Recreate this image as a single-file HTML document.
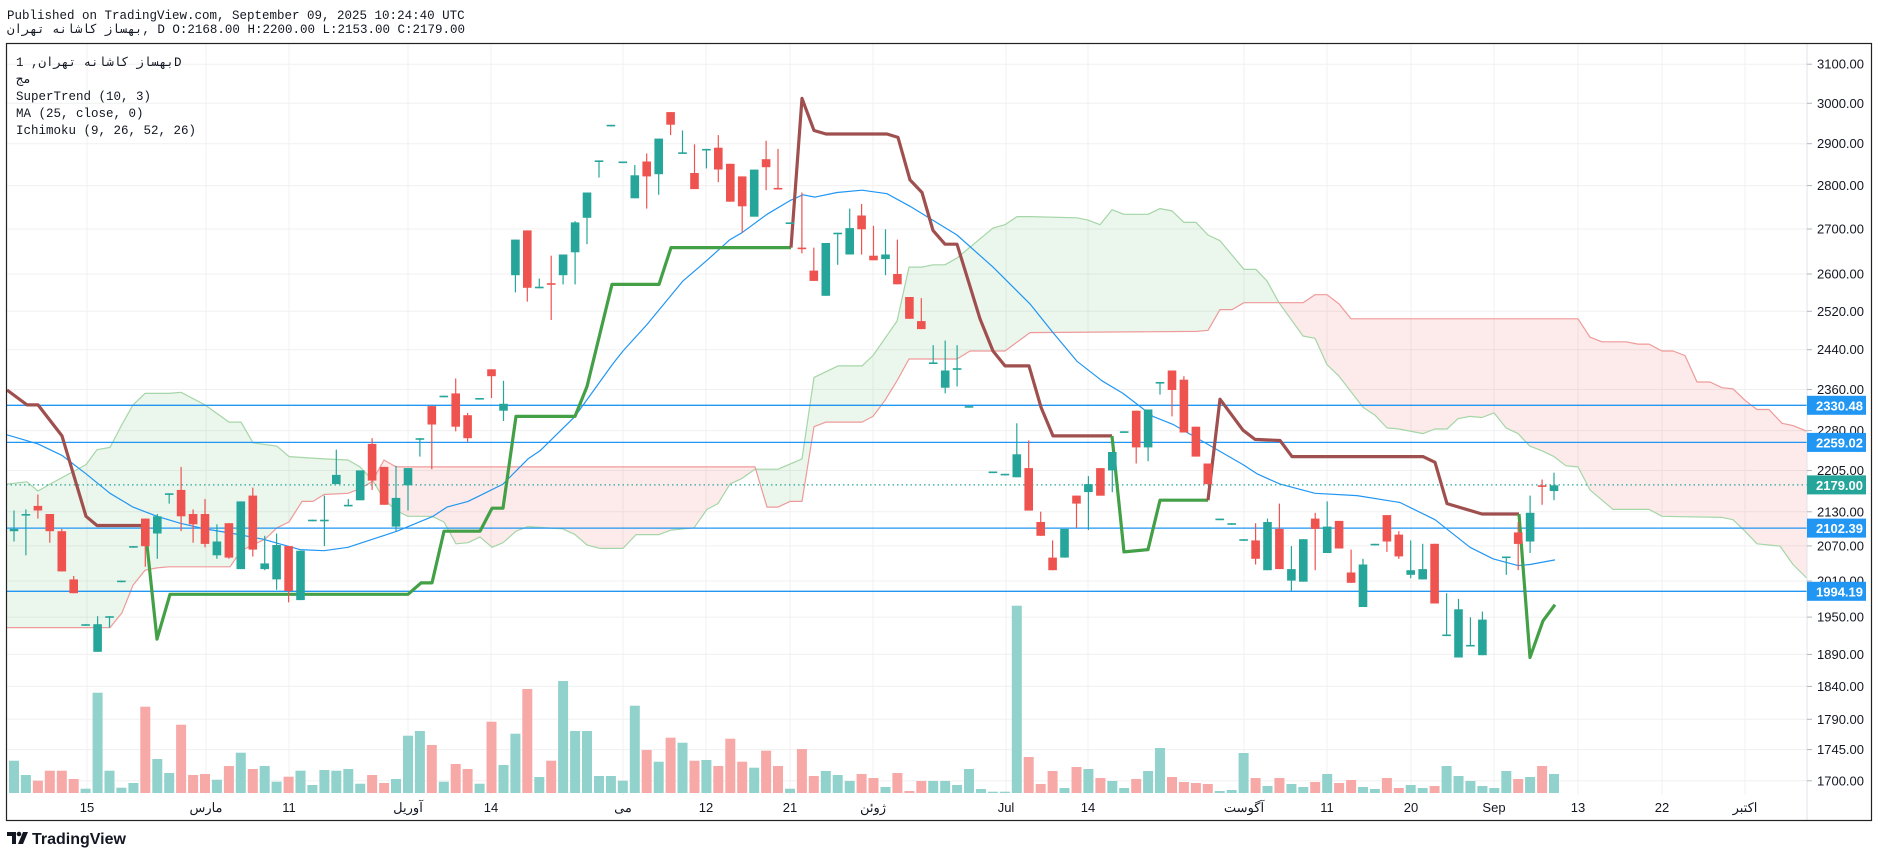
<!DOCTYPE html>
<html><head><meta charset="utf-8">
<style>
html,body{margin:0;padding:0;background:#fff;width:1878px;height:858px;overflow:hidden}
svg{display:block}
</style></head><body>
<svg id="s" width="1878" height="858" xmlns="http://www.w3.org/2000/svg" font-family="Liberation Sans, sans-serif"></svg>
<script>
const T=y=>80+1.1481*(y-80);
const k=1192.8, P=p=>103.3+k*Math.log(3000/p);
let o='';
o+='<rect x="0" y="0" width="1878" height="858" fill="#fff"/>';
// header
o+='<text x="7" y="19" font-family="Liberation Mono, DejaVu Sans Mono, monospace" font-size="12.5" fill="#131722">Published on TradingView.com, September 09, 2025 10:24:40 UTC</text>';
o+='<text x="7" y="33" font-family="Liberation Mono, Noto Sans CJK SC, monospace" font-size="12.5" fill="#131722"><tspan>بهساز کاشانه تهران</tspan><tspan>, D O:2168.00 H:2200.00 L:2153.00 C:2179.00</tspan></text>';
// grid
const ticks=[3100,3000,2900,2800,2700,2600,2520,2440,2360,2280,2205,2130,2070,2010,1950,1890,1840,1790,1745,1700];
ticks.forEach(p=>{o+=`<line x1="6" x2="1807" y1="${P(p).toFixed(1)}" y2="${P(p).toFixed(1)}" stroke="#f0f0f0"/>`});
const vx=[87,206,289,408,491,623,706,790,873,1006,1088,1244,1327,1411,1494,1578,1662,1745];
vx.forEach(x=>{o+=`<line x1="${x}" x2="${x}" y1="43" y2="795" stroke="#f0f0f0"/>`});
o+='<defs><clipPath id="c"><rect x="6" y="43" width="1801" height="752"/></clipPath></defs><g clip-path="url(#c)">';
// volume
const v1=[[28,'g',242],[52,'g',285],[76,'r',302],[99,'r',272],[122,'r',272],[146,'r',297],[169,'g',326],[191,'g',38],[214,'g',272],[238,'g',323],[261,'g',309],[285,'r',80],[308,'g',237],[331,'g',279],[355,'r',134],[378,'r',285],[403,'r',282],[427,'g',299],[450,'r',258],[473,'g',218],[497,'r',267],[520,'g',258],[544,'g',305],[567,'r',290],[590,'g',272],[613,'g',315],[636,'g',270],[660,'g',272],[683,'g',267],[706,'g',311],[730,'r',285],[754,'r',309],[777,'g',297],[800,'g',167],[824,'g',153],[848,'r',195],[871,'g',305],[895,'r',252],[918,'r',267],[942,'g',311],[964,'r',125],[987,'g',255],[1010,'g',161],[1034,'r',27],[1057,'g',291],[1081,'r',242],[1104,'g',3],[1128,'g',153],[1152,'g',153],[1175,'g',288],[1198,'g',288],[1222,'g',302],[1246,'g',77],[1269,'r',210],[1292,'g',245],[1316,'r',173],[1339,'g',188],[1362,'r',242],[1386,'g',240],[1409,'r',258],[1432,'r',176],[1456,'r',245],[1479,'g',263],[1502,'r',212],[1526,'r',258],[1549,'g',326],[1568,'r',207]];
const v2=`g 596|r 477|r 558|g 543|g 555|g 573|r 552|r 564|g 591|r 549|r 603|r 573|g 573|g 573|g 585|g 537|g 597|g 605|g 605|g 47|r 501|r 582|r 543|g 594|r 531|g 537|r 564|g 573|g 594|r 567|g 543|g 474|r 561|r 576|r 579|r 582|g 603|g 600|g 489|r 564|g 588|r 564|g 582|g 591|r 576|g 552|r 579|r 570|g 591|g 597|r 564|r 594|g 585|g 594|r 588|g 528|g 558|g 573|g 588|g 594|g 543|r 567|g 561|r 528|g 552`.split('|');
const X=i=>14+11.938*i;
const vb=(i,c,top)=>{o+=`<rect x="${(X(i)-5).toFixed(1)}" y="${top.toFixed(1)}" width="10" height="${(793-top).toFixed(1)}" fill="${c=='g'?'#92d2cc':'#f7a9a7'}"/>`};
v1.forEach((b,i)=>{if(i<65)vb(i,b[1],680+b[2]/3)});
v2.forEach((s,j)=>{const [c,z]=s.split(' ');vb(65+j,c,590+(+z)/3)});
// cloud
const A=[7,432,27,430,38,438,50,432,86,415,97,402,110,400,122,380,133,363,145,353,169,353,181,352,205,363,229,378,241,378,253,396,277,399,289,408,324,410,348,411,360,417,372,428,384,445,396,455,408,460,432,460,444,465,456,484,468,483,480,478,492,487,503,483,516,473,528,469,563,471,575,476,587,485,600,488,623,488,636,476,659,476,671,472,694,470,707,454,718,449,730,432,742,427,755,419,778,419,802,410,814,339,838,329,862,329,873,320,897,290,909,243,922,243,933,241,945,241,957,235,993,209,1005,206,1017,199,1030,199,1077,200,1088,202,1100,206,1112,193,1124,197,1148,197,1160,192,1172,194,1184,204,1196,204,1208,215,1220,220,1244,245,1256,245,1267,255,1279,274,1303,303,1315,305,1327,328,1339,338,1363,365,1375,372,1387,383,1399,384,1423,388,1435,384,1447,384,1458,375,1470,373,1482,374,1494,370,1506,383,1518,388,1530,399,1542,403,1554,408,1566,416,1578,417,1590,437,1613,454,1649,454,1662,460,1722,461,1733,463,1745,473,1757,484,1780,486,1793,502,1807,514];
const B=[7,557,110,557,122,544,133,520,145,507,157,505,169,504,230,504,241,490,265,480,277,470,289,465,302,447,313,447,324,441,348,440,360,436,372,430,384,411,396,417,755,417,767,452,778,452,790,447,802,447,814,382,826,378,862,378,873,373,885,359,897,342,909,323,957,323,970,316,1005,316,1030,300,1197,299,1208,298,1220,280,1232,280,1244,274,1303,274,1315,267,1327,267,1339,275,1351,288,1578,288,1590,304,1602,308,1626,308,1638,310,1649,310,1662,316,1673,316,1685,320,1697,343,1710,343,1722,348,1733,349,1745,359,1757,367,1769,367,1782,379,1793,381,1807,386];
const interp=(arr,x)=>{for(let i=0;i<arr.length-2;i+=2){if(x<=arr[i+2]){const t=(x-arr[i])/(arr[i+2]-arr[i]);return arr[i+1]+t*(arr[i+3]-arr[i+1]);}}return arr[arr.length-1];};
let gp='',rp='';
for(let x=7;x<1807;x+=1){const a0=T(interp(A,x)),b0=T(interp(B,x)),a1=T(interp(A,x+1)),b1=T(interp(B,x+1));
 const q=`M${x} ${a0.toFixed(1)}L${x+1} ${a1.toFixed(1)}L${x+1} ${b1.toFixed(1)}L${x} ${b0.toFixed(1)}Z`;
 if((a0+a1)<(b0+b1))gp+=q;else rp+=q;}
o+=`<path d="${gp}" fill="rgba(76,175,80,0.11)"/><path d="${rp}" fill="rgba(239,83,80,0.12)"/>`;
const pl=(arr,col,w)=>{let d='';for(let i=0;i<arr.length;i+=2)d+=(i?'L':'M')+arr[i]+' '+T(arr[i+1]).toFixed(1);o+=`<path d="${d}" fill="none" stroke="${col}" stroke-width="${w}" stroke-linejoin="round"/>`;};
pl(A,'#a5d6a7',1.2);pl(B,'#ef9a9a',1.2);
// MA
pl([7,389,38,397,62,407,86,423,110,440,133,452,157,460,180,466,205,471,233,475,263,480,300,489,324,490,348,487,397,473,433,460,447,452,468,447,480,442,503,432,528,410,540,403,575,373,613,327,623,316,647,293,683,255,707,237,730,219,742,213,767,197,790,185,803,180,815,182,837,178,862,176,887,179,910,190,957,215,993,243,1030,275,1053,300,1077,325,1102,342,1123,353,1153,373,1173,380,1207,397,1243,415,1257,423,1280,432,1315,440,1357,442,1400,448,1435,463,1470,487,1493,497,1518,503,1530,502,1555,498],'#2196f3',1.2);
// horizontal lines
[405.3,442.4,528.1,591.3].forEach(y=>{o+=`<line x1="6" x2="1807" y1="${y}" y2="${y}" stroke="#2196f3" stroke-width="1.3"/>`});
o+='<line x1="6" x2="1807" y1="484.9" y2="484.9" stroke="#26a69a" stroke-width="1.2" stroke-dasharray="1.5 3"/>';
// supertrend
const SR='#a04f4f',SG='#43a047';
pl([7,350,27,363,38,363,62,390,86,460,97,468,142,468],SR,3.2);
pl([142,468,147,485,157,567,170,528,408,528,421,518,432,518,444,473,480,473,492,453,503,453,516,373,575,373,587,347,612,258,659,258,671,226,791,226],SG,3.2);
pl([791,226,802,96,814,124,826,127,887,127,898,130,910,167,922,178,933,211,945,223,957,223,980,288,993,316,1005,329,1029,329,1041,365,1053,390,1112,390],SR,3.2);
pl([1112,390,1124,491,1148,489,1160,446,1208,446],SG,3.2);
pl([1208,446,1220,358,1243,385,1255,393,1280,394,1292,408,1423,408,1435,413,1447,449,1482,458,1519,458],SR,3.2);
pl([1519,458,1530,583,1543,551,1555,537],SG,3.2);
// candles
const C=`14 g 471 473 455 482
26 g 458 458 454 494
38 r 451 455 441 462
50 r 458 473 458 483
62 r 473 508 471 508
74 r 515 527 512 527
86 g 554 554 554 554
97 g 554 578 547 578
110 g 547 547 547 557
122 g 516 516 516 516
133 g 486 486 486 486
145 r 462 486 462 504
157 g 460 475 458 497
169 g 440 440 440 449
181 r 437 460 417 473
193 r 458 467 454 483
205 r 458 484 445 487
217 g 482 494 467 497
229 r 466 496 466 497
241 g 447 506 447 506
253 r 442 489 435 495
265 g 501 506 477 507
277 g 485 515 475 524
289 r 486 525 486 535
300 g 490 533 490 533
312 g 463 463 463 463
324 g 463 463 442 486
336 g 424 432 402 432
348 g 450 450 445 450
360 g 420 446 420 446
372 r 397 429 392 437
384 r 417 450 417 450
396 g 444 469 416 473
408 g 418 433 418 455
420 g 392 392 392 408
432 r 364 380 364 419
444 g 355 355 355 355
456 r 353 382 340 386
468 r 372 392 370 395
480 g 357 357 357 357
491 r 332 338 332 357
503 g 362 368 342 377
515 g 219 250 219 265
527 r 211 261 211 273
539 g 260 260 253 260
551 r 257 257 233 289
563 g 232 250 232 258
575 g 204 230 203 258
587 g 178 200 178 223
599 g 150 150 150 165
611 g 119 119 119 119
623 g 151 151 151 151
635 g 163 183 154 183
647 r 151 164 144 192
659 g 131 162 131 180
671 r 108 119 108 128
683 g 143 143 124 143
695 r 161 175 136 175
707 g 140 140 140 157
719 r 139 158 128 169
731 r 153 186 153 186
743 r 164 190 164 213
755 g 158 199 158 199
767 r 149 156 133 176
779 r 174 174 140 174
791 g 204 204 204 204
803 r 226 226 178 231
815 r 246 255 226 255
827 g 222 268 222 268
839 g 213 213 213 241
851 g 209 232 192 232
863 r 198 210 188 232
875 r 233 237 207 237
887 g 232 236 210 250
899 r 249 258 219 258
911 r 269 288 269 288
923 r 290 297 270 297
935 g 326 326 311 326
946 g 333 348 307 353
957 g 331 331 311 347
969 g 364 364 364 364
993 g 421 421 421 421
1005 g 423 423 423 423
1017 g 406 426 379 426
1029 r 418 455 394 455
1041 r 465 477 456 477
1053 r 496 507 481 507
1065 g 471 496 471 496
1076 r 442 449 442 470
1088 g 432 439 425 472
1100 r 418 442 418 442
1112 g 404 420 404 439
1124 g 386 386 386 386
1136 r 368 400 368 414
1148 g 367 400 367 412
1160 g 343 343 343 354
1172 r 333 350 333 373
1184 r 341 387 338 387
1196 r 382 408 382 408
1208 r 414 432 414 432
1220 g 462 462 462 462
1232 g 466 466 466 466
1244 g 480 480 480 480
1256 r 481 497 466 502
1267 g 465 507 462 507
1279 r 471 506 449 506
1291 g 506 516 486 525
1303 g 480 517 480 517
1315 r 462 471 457 507
1327 g 469 492 447 492
1339 r 464 488 464 488
1351 r 509 518 489 518
1363 g 502 539 497 539
1375 g 484 484 484 484
1387 r 459 482 459 491
1399 r 476 495 473 497
1411 g 507 511 481 514
1423 g 506 515 484 515
1435 r 484 536 484 536
1447 g 563 563 527 563
1458 g 541 583 532 583
1470 g 572 572 548 572
1482 g 550 581 543 581
1506 g 495 495 495 511
1518 r 474 484 465 507
1530 g 457 482 442 492
1542 r 433 433 428 450
1554 g 433 438 422 446`;
C.split('\n').forEach(l=>{const p=l.trim().split(/\s+/);const x0=+p[0];const i=Math.round((x0-14)/11.938);const x=X(i);
 const col=p[1]=='g'?'#26a69a':'#ef5350';let bt=T(+p[2]),bb=T(+p[3]),wt=T(+p[4]),wb=T(+p[5]);
 if(bb-bt<1.6){bb=bt+1.6;}
 o+=`<line x1="${x.toFixed(1)}" x2="${x.toFixed(1)}" y1="${wt.toFixed(1)}" y2="${Math.max(wb,bb).toFixed(1)}" stroke="${col}" stroke-width="1.2"/>`;
 o+=`<rect x="${(x-4.3).toFixed(1)}" y="${bt.toFixed(1)}" width="8.6" height="${(bb-bt).toFixed(1)}" fill="${col}"/>`;});
o+='</g>';
// legend
const lg=[['بهساز کاشانه تهران, 1D',62],['مج',79],['SuperTrend (10, 3)',96],['MA (25, close, 0)',113],['Ichimoku (9, 26, 52, 26)',130]];
lg.forEach(t=>{o+=`<text x="16" y="${t[1]+4}" font-family="Liberation Mono, Noto Sans CJK SC, monospace" font-size="12.5" fill="#131722">${t[0]}</text>`});
// axes frame
o+='<line x1="1807" x2="1807" y1="43" y2="821" stroke="#e0e3eb"/>';
o+='<rect x="6.5" y="43.5" width="1865" height="777" fill="none" stroke="#222" stroke-width="1.2"/>';
ticks.forEach(p=>{const y=P(p);o+=`<line x1="1807" x2="1812" y1="${y.toFixed(1)}" y2="${y.toFixed(1)}" stroke="#b2b5be"/><text x="1817" y="${(y+4.5).toFixed(1)}" font-size="13" fill="#131722">${p.toFixed(2)}</text>`});
[[405.3,'2330.48','#2196f3'],[442.4,'2259.02','#2196f3'],[484.9,'2179.00','#26a69a'],[528.1,'2102.39','#2196f3'],[591.3,'1994.19','#2196f3']].forEach(b=>{
 o+=`<rect x="1807" y="${b[0]-9.5}" width="59" height="19" fill="${b[2]}"/><text x="1816" y="${b[0]+5}" font-size="13" font-weight="bold" fill="#fff">${b[1]}</text>`});
// time labels
const tl=['15','مارس','11','آوریل','14','می','12','21','ژوئن','Jul','14','آگوست','11','20','Sep','13','22','اکتبر'];
tl.forEach((t,i)=>{o+=`<text x="${vx[i]}" y="812" text-anchor="middle" font-family="Liberation Sans, Noto Sans CJK SC, sans-serif" font-size="13" fill="#131722">${t}</text>`});
// logo
o+='<g transform="translate(7,830)"><path d="M0 2h9v12h-4v-8H0z M11 14l5-12h5l-5 12z" fill="#131722"/><circle cx="12" cy="4" r="2.3" fill="#131722"/></g>';
o+='<text x="32" y="844" font-size="16" font-weight="bold" fill="#131722">TradingView</text>';
document.getElementById('s').innerHTML=o;
</script>
</body></html>
